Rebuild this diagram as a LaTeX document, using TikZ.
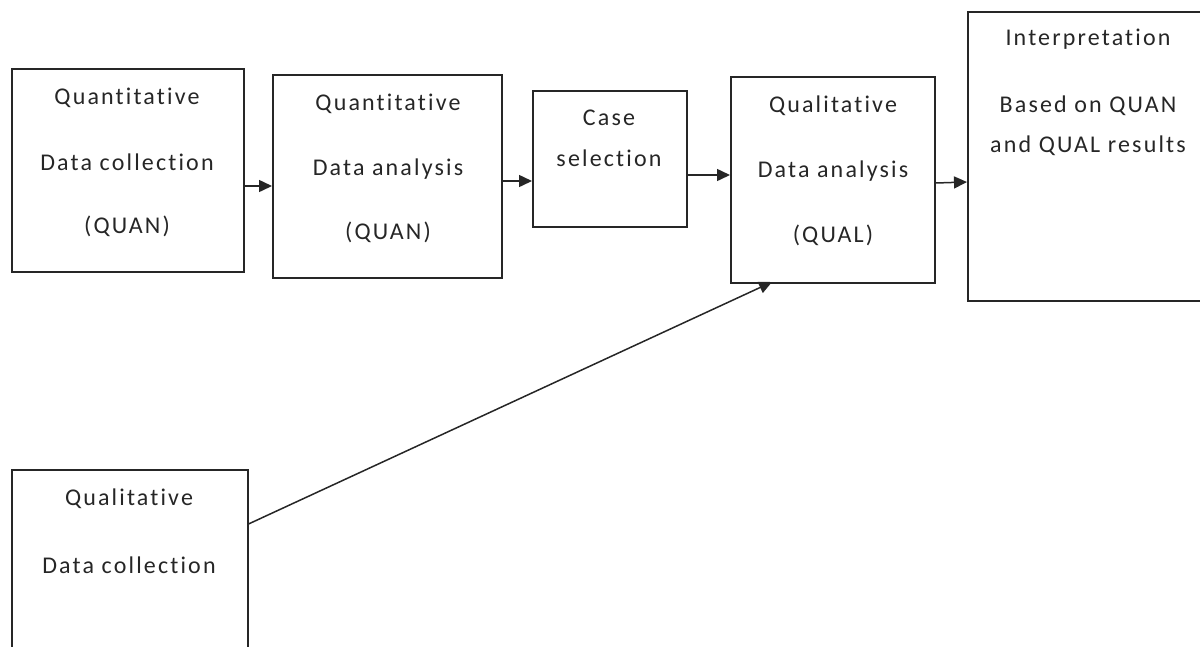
\documentclass[tikz,border=0pt]{standalone}
\usepackage{fontspec}
\setmainfont{Carlito}[LetterSpace=9,Ligatures={NoCommon}]
\usetikzlibrary{arrows.meta}
\begin{document}
\begin{tikzpicture}[x=1pt,y=-1pt,
  box/.style={draw=black!85, line width=1.5pt, rectangle, anchor=north west, inner sep=0pt},
  txt/.style={anchor=base, inner sep=0pt, font=\fontsize{24}{28}\selectfont, text=black!85},
  conn/.style={draw=black!85, line width=1.5pt, -{Triangle[length=13pt,width=12pt]}},
  line/.style={draw=black!80, line width=1.5pt}]
\useasboundingbox (0,0) rectangle (1200,646);
\clip (0,0) rectangle (1200,646);
% boxes
\node[box, minimum width=232pt, minimum height=203pt] (b1) at (11,68) {};
\node[box, minimum width=229pt, minimum height=203pt] (b2) at (272,74) {};
\node[box, minimum width=154pt, minimum height=136pt] (b3) at (532,90) {};
\node[box, minimum width=204pt, minimum height=206pt] (b4) at (730,76) {};
\node[box, minimum width=243pt, minimum height=289pt] (b5) at (967,11) {};
\node[box, minimum width=236pt, minimum height=240pt] (b6) at (11,469) {};
% texts
\node[txt] (t1a) at (127,104) {Quantitative};
\node[txt] (t1b) at (127,170) {Data collection};
\node[txt] (t1c) at (127,233) {(QUAN)};
\node[txt] (t2a) at (388,110) {Quantitative};
\node[txt] (t2b) at (388,175) {Data analysis};
\node[txt] (t2c) at (388,239) {(QUAN)};
\node[txt] (t3a) at (609,125) {Case};
\node[txt] (t3b) at (609,166) {selection};
\node[txt] (t4a) at (833,112) {Qualitative};
\node[txt] (t4b) at (833,177) {Data analysis};
\node[txt] (t4c) at (833,242) {(QUAL)};
\node[txt] (t5a) at (1088,45) {Interpretation};
\node[txt] (t5b) at (1088,112) {Based on QUAN};
\node[txt] (t5c) at (1088,152) {and QUAL results};
\node[txt] (t6a) at (129,505) {Qualitative};
\node[txt] (t6b) at (129,573) {Data collection};
% connectors
\draw[conn] (b1.east |- 0,186) -- (b2.west |- 0,186);
\draw[conn] (b2.east |- 0,181) -- (b3.west |- 0,181);
\draw[conn] (b3.east |- 0,175) -- (b4.west |- 0,175);
\draw[conn] (b4.east |- 0,183) -- (b5.west |- 0,182);
\coordinate (e4) at (772,282);
\draw[conn] (b6.east |- 0,524) -- (e4);
\end{tikzpicture}
\end{document}
